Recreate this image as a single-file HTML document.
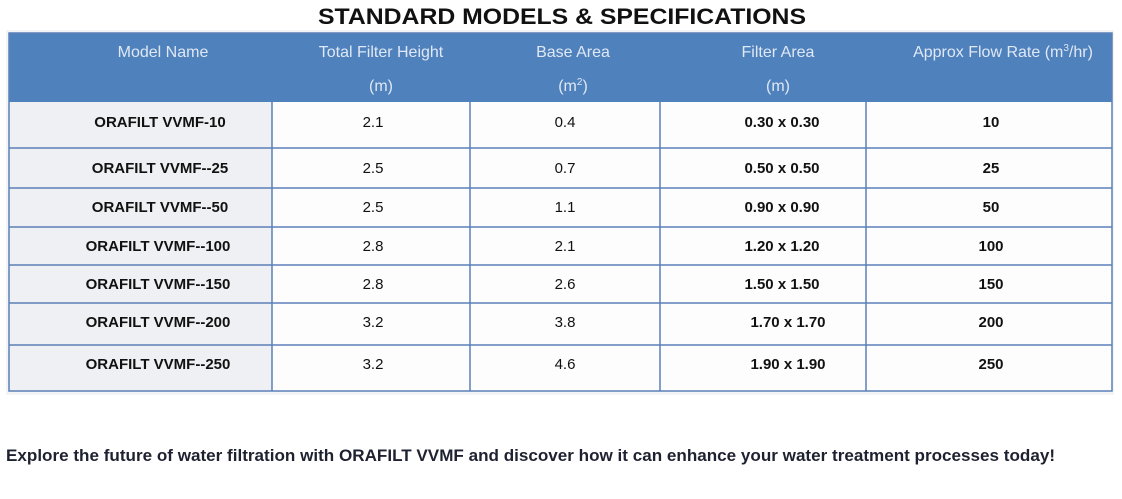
<!DOCTYPE html>
<html><head><meta charset="utf-8"><style>
html,body{margin:0;padding:0;background:#fff;width:1122px;height:499px;overflow:hidden}
svg{display:block}
text{font-family:"Liberation Sans",Arial,sans-serif}
</style></head><body>
<svg width="1122" height="499" viewBox="0 0 1122 499">
<text x="562" y="24" text-anchor="middle" font-size="22" font-weight="bold" fill="#111" textLength="488" lengthAdjust="spacingAndGlyphs">STANDARD MODELS &amp; SPECIFICATIONS</text>
<rect x="6" y="30" width="1108" height="365" fill="#f3f4f6"/>
<rect x="272" y="102" width="840" height="289" fill="#fdfdfe"/>
<rect x="9" y="102" width="263" height="289" fill="#eef0f3"/>
<rect x="9" y="33" width="1103" height="69" fill="#4f81bd"/>
<g stroke="#5b80b8" stroke-width="1.5" fill="none">
<rect x="9" y="33" width="1103" height="358"/>
<line x1="9" y1="148" x2="1112" y2="148"/>
<line x1="9" y1="188" x2="1112" y2="188"/>
<line x1="9" y1="227" x2="1112" y2="227"/>
<line x1="9" y1="265" x2="1112" y2="265"/>
<line x1="9" y1="303" x2="1112" y2="303"/>
<line x1="9" y1="345" x2="1112" y2="345"/>
<line x1="272" y1="102" x2="272" y2="391"/>
<line x1="470" y1="102" x2="470" y2="391"/>
<line x1="660" y1="102" x2="660" y2="391"/>
<line x1="866" y1="102" x2="866" y2="391"/>
</g>
<g fill="#dfe8f4" font-size="16" text-anchor="middle">
<text x="163" y="57">Model Name</text>
<text x="381" y="57">Total Filter Height</text>
<text x="381" y="91">(m)</text>
<text x="573" y="57">Base Area</text>
<text x="573" y="91">(m<tspan font-size="10" dy="-6">2</tspan><tspan dy="6">)</tspan></text>
<text x="778" y="57">Filter Area</text>
<text x="778" y="91">(m)</text>
<text x="1003" y="57">Approx Flow Rate (m<tspan font-size="10" dy="-6">3</tspan><tspan dy="6">/hr)</tspan></text>
</g>
<g fill="#111" font-size="15" text-anchor="middle">
<g font-weight="bold">
<text x="160" y="127">ORAFILT VVMF-10</text>
<text x="160" y="173">ORAFILT VVMF--25</text>
<text x="160" y="212">ORAFILT VVMF--50</text>
<text x="158" y="251">ORAFILT VVMF--100</text>
<text x="158" y="289">ORAFILT VVMF--150</text>
<text x="158" y="327">ORAFILT VVMF--200</text>
<text x="158" y="369">ORAFILT VVMF--250</text>
<text x="782" y="127">0.30 x 0.30</text>
<text x="782" y="173">0.50 x 0.50</text>
<text x="782" y="212">0.90 x 0.90</text>
<text x="782" y="251">1.20 x 1.20</text>
<text x="782" y="289">1.50 x 1.50</text>
<text x="788" y="327">1.70 x 1.70</text>
<text x="788" y="369">1.90 x 1.90</text>
<text x="991" y="127">10</text>
<text x="991" y="173">25</text>
<text x="991" y="212">50</text>
<text x="991" y="251">100</text>
<text x="991" y="289">150</text>
<text x="991" y="327">200</text>
<text x="991" y="369">250</text>
</g>
<text x="373" y="127">2.1</text>
<text x="373" y="173">2.5</text>
<text x="373" y="212">2.5</text>
<text x="373" y="251">2.8</text>
<text x="373" y="289">2.8</text>
<text x="373" y="327">3.2</text>
<text x="373" y="369">3.2</text>
<text x="565" y="127">0.4</text>
<text x="565" y="173">0.7</text>
<text x="565" y="212">1.1</text>
<text x="565" y="251">2.1</text>
<text x="565" y="289">2.6</text>
<text x="565" y="327">3.8</text>
<text x="565" y="369">4.6</text>
</g>
<text x="6" y="461" font-size="16.5" font-weight="bold" fill="#1e2230" textLength="1049" lengthAdjust="spacingAndGlyphs">Explore the future of water filtration with ORAFILT VVMF and discover how it can enhance your water treatment processes today!</text>
</svg>
</body></html>
